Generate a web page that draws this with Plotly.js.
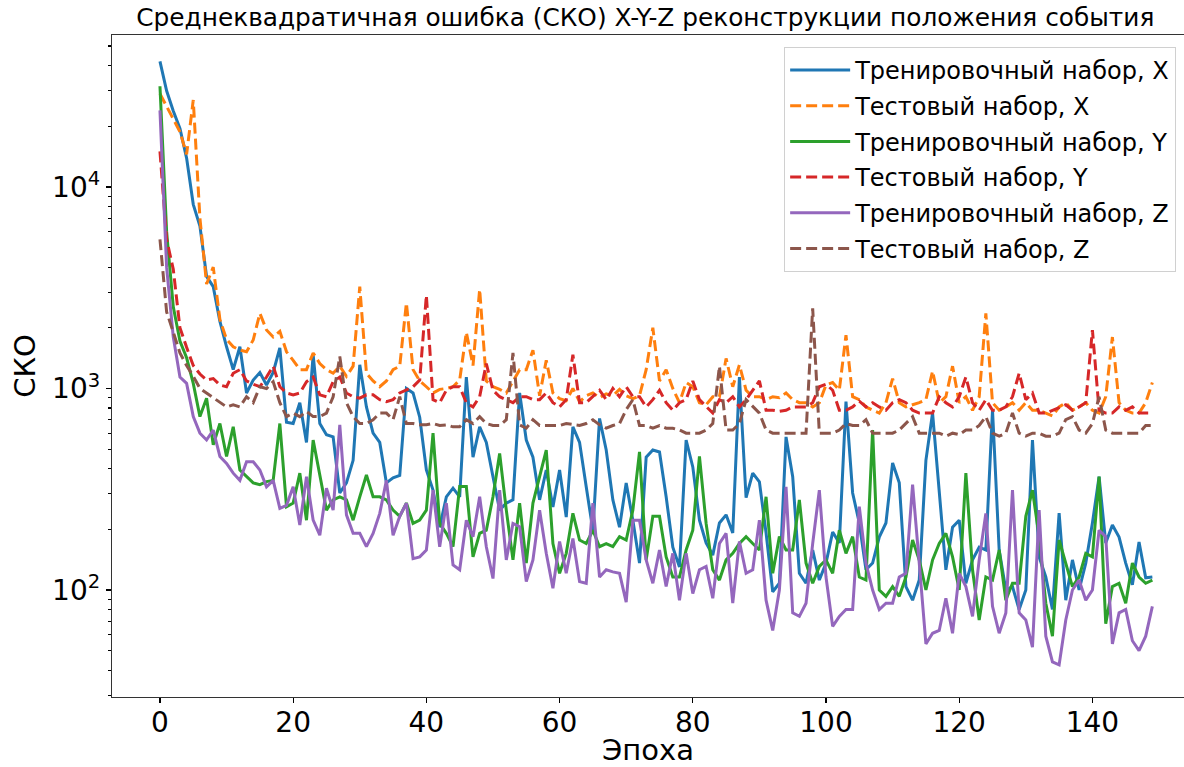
<!DOCTYPE html>
<html>
<head>
<meta charset="utf-8">
<script src="https://cdn.plot.ly/plotly-3.0.1.min.js"></script>
<style>html,body{margin:0;padding:0;background:#fff;}#chart{width:1184px;height:767px;}</style>
</head>
<body>
<div id="chart"></div>
<script>
// ---- data ----
const epochs = Array.from({length:150}, (_, i) => i);

const trainX = [42000,30000,23800,19500,13900,8200,6400,3600,3200,2150,
1610,1240,1610,950,1100,1200,1040,1200,1590,680,
670,850,540,1470,670,590,575,303,340,440,
1310,810,600,540,340,360,370,1000,950,720,
394,313,205,290,320,290,1140,456,645,540,
365,249,270,280,950,555,456,280,394,258,
394,230,645,540,325,198,710,495,280,205,
340,222,136,456,495,484,290,163,130,555,
408,222,171,149,215,236,192,1140,287,380,
344,192,98,108,575,365,121,108,158,112,
136,194,171,860,303,215,126,136,183,215,
427,340,104,89,112,440,755,313,126,205,
222,108,141,163,158,782,158,100,104,80,
100,555,146,116,80,241,89,141,100,136,
215,365,171,210,183,136,106,173,115,116];

const testX = [29000,25000,21600,18800,14500,27000,7000,3300,4000,2200,
1750,1610,1550,1520,1740,2360,1950,1800,1920,1520,
1380,1240,1240,1500,1330,1240,1190,1290,1150,1290,
3200,1190,1090,1020,1090,1240,1290,2660,1240,1090,
1020,950,990,1000,1020,1100,1900,1300,3100,1090,
1020,990,950,1090,1240,1240,1550,920,1380,950,
890,870,1000,860,920,950,900,940,920,990,
920,890,920,1240,2000,1090,1240,1000,850,1070,
1020,850,830,910,910,1410,1020,1310,980,910,
910,880,910,900,950,880,850,850,810,850,
1040,1070,980,1840,910,880,810,780,755,850,
1120,850,810,830,850,880,1220,850,910,1290,
850,910,780,910,2360,850,780,810,850,780,
850,780,780,755,730,810,850,780,810,850,
780,755,910,1800,850,780,755,755,850,1070];

const trainY = [31600,6000,2540,1720,1420,1060,725,895,525,670,
460,645,394,365,340,333,345,350,670,259,
270,380,222,555,365,249,280,290,280,222,
290,372,290,290,280,249,232,270,214,222,
249,600,214,191,164,326,326,146,191,198,
290,476,249,141,270,136,270,365,495,170,
121,152,240,177,170,198,164,170,164,184,
177,249,485,141,232,232,146,116,116,158,
198,460,214,126,112,141,152,170,184,170,
158,290,121,184,158,158,280,136,108,131,
141,121,198,152,184,116,112,622,100,93,
104,93,116,177,141,100,141,170,191,146,
100,380,126,71,116,112,158,89,108,108,
232,313,184,86,59,177,136,104,116,152,
146,365,68,104,108,86,136,116,108,112];

const testY = [15000,5500,3900,2000,1600,1300,1180,1100,1120,1040,
1020,1190,1240,1090,1050,1020,1140,1290,1020,950,
930,950,1080,1140,930,910,1080,1140,950,910,
895,930,930,880,860,880,950,980,1020,1100,
2900,880,850,980,1020,1020,850,810,910,1330,
980,910,880,850,910,910,880,880,950,850,
810,880,1470,850,850,910,980,880,1000,910,
1020,910,910,810,880,980,850,780,850,880,
1090,880,810,755,880,850,910,810,880,980,
1090,780,780,770,780,810,810,810,850,1020,
1050,980,780,780,810,865,810,850,810,780,
850,880,850,780,755,755,755,910,850,810,
910,1140,850,780,880,780,780,810,910,1190,
880,950,755,755,780,810,830,780,810,850,
1950,780,755,755,810,780,810,755,755,755];

const trainZ = [24000,4000,1800,1140,1060,725,600,555,622,460,
425,380,350,433,433,394,325,350,254,263,
325,210,365,222,187,320,249,660,236,191,
191,164,191,240,350,187,232,270,143,146,
158,313,164,270,133,126,222,184,290,164,
114,313,141,214,206,110,141,249,152,102,
174,121,180,110,108,270,116,126,123,121,
87,222,222,141,108,158,104,152,89,152,
96,126,131,91,170,191,86,174,121,126,
222,89,63,100,325,77,74,86,170,313,
116,66,74,80,80,259,136,100,80,86,
86,116,121,333,136,54,61,63,91,61,
121,104,74,141,240,83,61,77,313,77,
71,52,249,59,44,42.5,71,100,112,89,
100,198,184,54,77,80,56,50,59,83];

const testZ = [5500,2400,1900,1500,1300,1150,1000,950,900,850,
810,830,810,910,850,1020,1000,1080,850,725,
755,725,770,725,725,755,910,1440,850,725,
670,670,700,755,755,700,910,670,670,660,
660,670,655,660,645,645,700,670,725,670,
655,655,700,1500,660,635,700,655,655,660,
655,670,660,655,670,700,660,635,655,670,
785,880,655,655,635,655,635,635,622,600,
600,600,622,670,1290,622,622,670,880,810,
755,622,600,600,600,600,600,600,2500,600,
600,600,622,670,655,655,700,600,600,600,
600,622,670,725,600,600,600,600,580,600,
590,622,622,655,725,600,580,600,755,600,
580,600,600,580,580,600,700,725,622,600,
670,910,622,600,600,600,600,600,655,655];

const seriesNames = ['Тренировочный набор, X','Тестовый набор, X','Тренировочный набор, Y','Тестовый набор, Y','Тренировочный набор, Z','Тестовый набор, Z'];
const seriesData = [trainX, testX, trainY, testY, trainZ, testZ];
const seriesColors = ['#1f77b4','#ff7f0e','#2ca02c','#d62728','#9467bd','#8c564b'];
const seriesDash = ['solid','11px,5px','solid','11px,5px','solid','11px,5px'];

const xTickVals = [0,20,40,60,80,100,120,140];
const yTickVals = [100,1000,10000];
const yTickText = ['10<sup>2</sup>','10<sup>3</sup>','10<sup>4</sup>'];

const titleText = 'Среднеквадратичная ошибка (СКО) X-Y-Z реконструкции положения события';
const xTitle = 'Эпоха';
const yTitle = 'СКО';

// ---- build ----
const traces = seriesData.map((ys, i) => ({
  x: epochs, y: ys, type: 'scatter', mode: 'lines', name: seriesNames[i],
  legendgroup: 'g' + i,
  line: {color: seriesColors[i], width: 3, dash: seriesDash[i]}
}));

const minorVals = [];
for (let d = 1; d <= 4; d++) for (let k = 2; k <= 9; k++) minorVals.push(k * Math.pow(10, d));

const font = 'DejaVu Sans, Liberation Sans, sans-serif';
const layout = {
  width: 1184, height: 767,
  paper_bgcolor: '#fff', plot_bgcolor: '#fff',
  margin: {l: 112, r: 0, t: 35, b: 70},
  font: {family: font, color: '#000'},
  title: {text: titleText, font: {size: 24.8, family: font, color: '#000'},
          x: 0.545, xref: 'container', xanchor: 'center', y: 0.977, yref: 'container', yanchor: 'middle'},
  xaxis: {
    range: [-7.2, 153.75], tickvals: xTickVals, ticks: 'outside', ticklen: 5, tickwidth: 1.2,
    tickcolor: '#000', showgrid: false, zeroline: false, showline: true, linecolor: '#333',
    linewidth: 1.2, mirror: true, tickfont: {size: 28, family: font, color: '#000'},
    ticklabelstandoff: -5,
    title: {text: xTitle, font: {size: 29, family: font, color: '#000'}, standoff: 2}
  },
  yaxis: {
    type: 'log', range: [1.469, 4.754], tickvals: yTickVals, ticktext: yTickText,
    ticks: 'outside', ticklen: 5, tickwidth: 1.2, tickcolor: '#000', showgrid: false,
    zeroline: false, showline: true, linecolor: '#333', linewidth: 1.2,
    tickfont: {size: 28, family: font, color: '#000'},
    minor: {tickvals: minorVals, ticks: 'outside', ticklen: 3, tickcolor: '#000', showgrid: false},
    title: {text: yTitle, font: {size: 29, family: font, color: '#000'}, standoff: 8}
  },
  showlegend: true,
  legend: {
    x: 0.627, xanchor: 'left', y: 0.982, yanchor: 'top',
    bgcolor: 'rgba(255,255,255,0.85)', bordercolor: '#d0d0d0', borderwidth: 1,
    font: {size: 24, family: font, color: '#000'}, tracegroupgap: 1.5, itemwidth: 60
  }
};

Plotly.newPlot('chart', traces, layout, {displayModeBar: false, staticPlot: true});
</script>
</body>
</html>
